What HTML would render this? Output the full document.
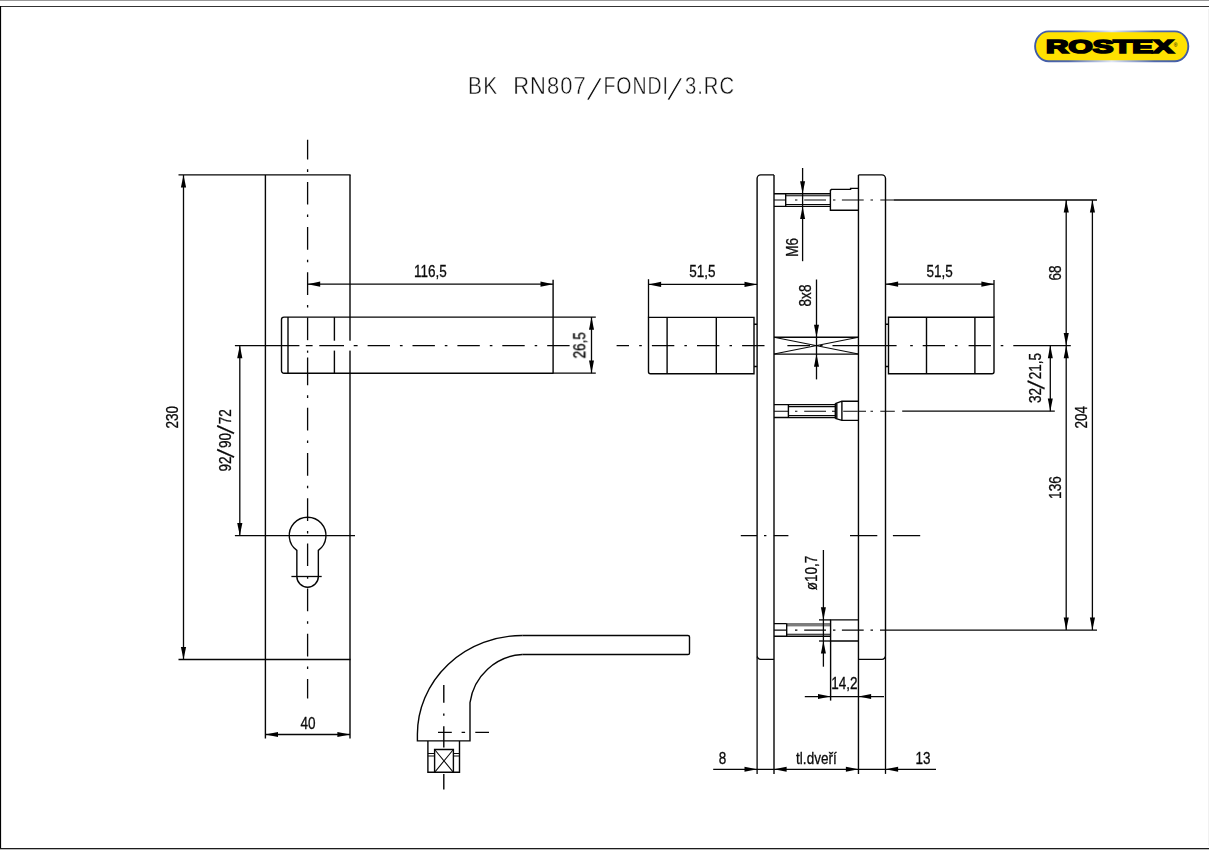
<!DOCTYPE html>
<html lang="cs"><head><meta charset="utf-8"><title>BK RN807/FONDI/3.RC</title>
<style>
html,body{margin:0;padding:0;background:#fff}
body{width:1209px;height:855px;overflow:hidden}
svg{display:block}
.t{stroke:#060606;stroke-width:1.3;fill:none}
.k{stroke:#050505;stroke-width:1.4;fill:none}
.m{stroke:#080808;stroke-width:1.05;fill:none}
.a{fill:#000;stroke:none}
.d{font-family:"Liberation Sans",sans-serif;font-size:16.5px;fill:#0a0a0a;stroke:#0a0a0a;stroke-width:.3px}
.s{font-size:25px}
.title{font-family:"Liberation Sans",sans-serif;font-size:24px;fill:#111;stroke:#fff;stroke-width:.4px;letter-spacing:1.2px}
.sl{font-size:34px;letter-spacing:0;stroke-width:1.1px}
.logo{font-family:"Liberation Sans",sans-serif;font-weight:bold;font-size:18.6px;fill:#000;stroke:#000;stroke-width:1.7px;stroke-linejoin:miter}
.reg{font-family:"Liberation Sans",sans-serif;font-size:5px;fill:#000;text-anchor:middle}
</style></head>
<body>
<svg width="1209" height="855" viewBox="0 0 1209 855">

<rect x="0" y="0" width="1209" height="1" fill="#999"/>
<rect x="0" y="6" width="1209" height="1" fill="#333"/>
<rect x="0" y="6" width="1.1" height="843" fill="#000"/>
<rect x="0" y="848" width="1209" height="1.3" fill="#1c1c1c"/>
<rect x="1208" y="9" width="1" height="837" fill="#f1f1f1"/>
<defs><linearGradient id="lg" x1="0" x2="1" y1="0" y2="0"><stop offset="0" stop-color="#3f5aa6"/><stop offset=".22" stop-color="#4f68b0"/><stop offset=".5" stop-color="#dfe6f6"/><stop offset=".78" stop-color="#4f68b0"/><stop offset="1" stop-color="#3f5aa6"/></linearGradient></defs>
<rect x="1035.1" y="31.4" width="153.2" height="29.8" rx="13.5" ry="14.9" fill="#ffe100" stroke="url(#lg)" stroke-width="1.9"/>
<text class="logo" transform="translate(1109.9,53.4) scale(1.67,1)" text-anchor="middle">ROSTEX</text>
<text class="reg" x="1175.6" y="47.4">®</text>
<line class="k" x1="265.4" y1="174.9" x2="265.4" y2="738.5"/>
<line class="k" x1="350.0" y1="174.9" x2="350.0" y2="738.5"/>
<line class="k" x1="178.5" y1="174.9" x2="350.6" y2="174.9"/>
<line class="k" x1="178.5" y1="659.5" x2="350.6" y2="659.5"/>
<path class="t" d="M307.6 139.8V159.4M307.6 169.3V171.9M307.6 181.9V204.6M307.6 214.5V217.1M307.6 227.1V249.8M307.6 259.7V262.3M307.6 272.3V295.0M307.6 304.9V307.5M307.6 317.5V340.2M307.6 350.1V352.7M307.6 362.6V385.3M307.6 395.3V397.9M307.6 407.8V430.5M307.6 440.5V443.1M307.6 453.0V475.7M307.6 485.7V488.3M307.6 498.2V520.9M307.6 530.9V533.5M307.6 543.4V566.1M307.6 576.1V578.7M307.6 588.6V611.3M307.6 621.2V623.8M307.6 633.8V656.5M307.6 666.4V669.0M307.6 679.0V698.6M307.6 357.4V362.7"/>
<line class="t" x1="183.5" y1="174.9" x2="183.5" y2="659.5"/>
<polygon class="a" points="183.5,174.9 180.9,187.5 186.1,187.5"/>
<polygon class="a" points="183.5,659.5 180.9,646.9 186.1,646.9"/>
<path class="k" d="M553.1 317.1H284a2.5 2.5 0 0 0 -2.5 2.5V370.7a2.5 2.5 0 0 0 2.5 2.5H553.1"/>
<line class="k" x1="288" y1="317.1" x2="288" y2="373.2"/>
<line class="k" x1="334.4" y1="317.1" x2="334.4" y2="373.2"/>
<line class="k" x1="553.1" y1="279.8" x2="553.1" y2="373.8"/>
<line class="t" x1="307.6" y1="284.2" x2="553.1" y2="284.2"/>
<polygon class="a" points="307.6,284.2 320.2,281.6 320.2,286.8"/>
<polygon class="a" points="553.1,284.2 540.5,281.6 540.5,286.8"/>
<rect x="299.8" y="340.7" width="56" height="9.9" fill="#fff"/>
<line class="t" x1="234.9" y1="345.55" x2="299.4" y2="345.55"/>
<path class="t" d="M305.8 345.55H312.6M319.3 345.55H344.0M353.7 345.55H357.6M367.6 345.55H390.0M399.9 345.55H402.6M412.5 345.55H434.9M444.8 345.55H447.4M457.4 345.55H479.8M489.8 345.55H492.4M502.3 345.55H524.7M534.7 345.55H537.2M547.2 345.55H569.6"/>
<line class="t" x1="553.1" y1="317.1" x2="595.8" y2="317.1"/>
<line class="t" x1="553.1" y1="373.2" x2="595.8" y2="373.2"/>
<line class="t" x1="591.5" y1="317.1" x2="591.5" y2="373.2"/>
<polygon class="a" points="591.5,317.1 589.0,329.7 594.0,329.7"/>
<polygon class="a" points="591.5,373.2 589.0,360.6 594.0,360.6"/>
<line class="t" x1="239.8" y1="345.55" x2="239.8" y2="535.55"/>
<polygon class="a" points="239.8,345.6 237.2,358.2 242.4,358.2"/>
<polygon class="a" points="239.8,535.5 237.2,522.9 242.4,522.9"/>
<line class="t" x1="234.9" y1="535.55" x2="355" y2="535.55"/>
<path class="k" d="M296.85 550.42A18.35 18.35 0 1 1 318.35 550.42V576.5A10.75 10.75 0 0 1 296.85 576.5Z"/>
<line class="t" x1="291.4" y1="576.5" x2="321.7" y2="576.5"/>
<line class="t" x1="265.4" y1="734.5" x2="350.0" y2="734.5"/>
<polygon class="a" points="265.4,734.5 278.0,732.0 278.0,737.0"/>
<polygon class="a" points="350.0,734.5 337.4,732.0 337.4,737.0"/>
<path class="k" d="M522.3 635.5H687.9a1.6 1.6 0 0 1 1.6 1.6V652.9a1.6 1.6 0 0 1 -1.6 1.6H522.3"/>
<path class="k" d="M522.3 635.5A104.9 98.8 0 0 0 417.4 734.3V740.9H470V702.6A56 56 0 0 1 522.3 654.5"/>
<path class="k" d="M427.9 740.9V772.3H459.5V740.9"/>
<path class="k" d="M434.6 772.3V749.5H453.4V772.3"/>
<path class="m" d="M434.6 749.5L453.4 772.3M453.4 749.5L434.6 772.3"/>
<path class="m" d="M427.9 753.4H434.6M427.9 756H434.6M453.4 753.4H459.5M453.4 756H459.5"/>
<path class="k" d="M443.8 684.9V702.7M443.8 713.4V715.8M443.8 726.3V747.6M443.8 773.9V789.5"/>
<path class="k" d="M438.0 732.4H451.8M461.6 732.4H465.1M475.3 732.4H489.0"/>
<path class="k" d="M774.0 174.9H760.7a3.6 3.6 0 0 0 -3.6 3.6V655.8a3.6 3.6 0 0 0 3.6 3.6H774.0"/>
<path class="k" d="M858.45 174.9H881.9a3.6 3.6 0 0 1 3.6 3.6V655.8a3.6 3.6 0 0 1 -3.6 3.6H858.45"/>
<line class="k" x1="774.0" y1="174.9" x2="774.0" y2="773.9"/>
<line class="k" x1="858.45" y1="174.9" x2="858.45" y2="773.9"/>
<line class="t" x1="757.1" y1="656.4" x2="757.1" y2="773.9"/>
<line class="t" x1="885.5" y1="656.4" x2="885.5" y2="773.9"/>
<path class="k" d="M754 317.4H648.5V371.7a2 2 0 0 0 2 2H754Z"/>
<line class="k" x1="667.1" y1="317.4" x2="667.1" y2="373.7"/>
<line class="k" x1="716.3" y1="317.4" x2="716.3" y2="373.7"/>
<path class="k" d="M754 324.3H757.1M754 366.5H757.1"/>
<path class="k" d="M888.5 317.2H994V371.7a2 2 0 0 1 -2 2H888.5Z"/>
<line class="k" x1="926.5" y1="317.2" x2="926.5" y2="373.7"/>
<line class="k" x1="974.9" y1="317.2" x2="974.9" y2="373.7"/>
<path class="k" d="M885.5 324.3H888.5M885.5 366.5H888.5"/>
<path class="k" d="M774.0 337.3H858.45M774.0 354.1H858.45"/>
<path class="m" d="M774.0 337.3L858.45 354.1M774.0 354.1L858.45 337.3"/>
<path class="t" d="M616.6 345.55H629.0M639.2 345.55H641.8M651.9 345.55H674.3M684.4 345.55H686.9M697.0 345.55H719.4M729.5 345.55H732.0M742.1 345.55H764.5M787.4 345.55H810.0M820.0 345.55H822.6M832.5 345.55H858.4"/>
<line class="t" x1="858.4" y1="345.55" x2="896.6" y2="345.55"/>
<path class="t" d="M910.2 345.55H912.8M922.7 345.55H945.0M954.9 345.55H957.5M968.6 345.55H990.9M1000.7 345.55H1003.3"/>
<line class="t" x1="1013.3" y1="345.55" x2="1070.8" y2="345.55"/>
<line class="t" x1="648.5" y1="279.2" x2="648.5" y2="317.4"/>
<line class="t" x1="648.5" y1="284.4" x2="757.1" y2="284.4"/>
<polygon class="a" points="648.5,284.4 661.1,281.8 661.1,286.9"/>
<polygon class="a" points="757.1,284.4 744.5,281.8 744.5,286.9"/>
<line class="t" x1="994" y1="279.9" x2="994" y2="317.2"/>
<line class="t" x1="885.5" y1="284.2" x2="994" y2="284.2"/>
<polygon class="a" points="885.5,284.2 898.1,281.6 898.1,286.8"/>
<polygon class="a" points="994.0,284.2 981.4,281.6 981.4,286.8"/>
<path class="k" d="M774.0 193.8H830.4M774.0 206.4H830.4M785.7 193.8V206.4"/>
<path class="m" d="M785.7 195.8H830.4M785.7 204.5H830.4M774.0 200.0H785.7"/>
<path class="k" d="M858.45 210.3H830.4V190.4l1 -1H850.6V188.4H858.45"/>
<path class="m" d="M795.0 200.0H797.4M804.2 200.0H826.0M833.0 200.0H835.4M841.9 200.0H863.7M870.5 200.0H873.0M880.3 200.0H893.5"/>
<line class="t" x1="893.5" y1="200.0" x2="1097" y2="200.0"/>
<line class="t" x1="802.6" y1="168" x2="802.6" y2="261.2"/>
<polygon class="a" points="802.6,193.8 800.1,181.2 805.1,181.2"/>
<polygon class="a" points="802.6,206.4 800.1,219.0 805.1,219.0"/>
<line class="t" x1="816.5" y1="279.5" x2="816.5" y2="379.4"/>
<polygon class="a" points="816.5,337.3 814.0,324.7 819.0,324.7"/>
<polygon class="a" points="816.5,354.1 814.0,366.7 819.0,366.7"/>
<path class="k" d="M774.0 404.6H835.3M774.0 417.5H835.3M788.4 404.6V417.5"/>
<path class="m" d="M788.4 406.6H835.3M788.4 415.5H835.3M774.0 411.2H788.4"/>
<path class="k" d="M835.3 403.6V418.4M836.8 403.2V418.8M841.9 401.2V420.4M835.3 403.6L841.9 401.2H858.45M835.3 418.4L841.9 420.4H858.45"/>
<path class="m" d="M795.0 411.2H797.4M804.2 411.2H826.0M832.0 411.2H835.0M843.2 411.2H857.8M858.4 411.2H866.0M870.5 411.2H873.0M880.3 411.2H894.8"/>
<line class="t" x1="902.2" y1="411.2" x2="1054.8" y2="411.2"/>
<line class="t" x1="1050.3" y1="345.55" x2="1050.3" y2="411.2"/>
<polygon class="a" points="1050.3,345.6 1047.8,358.2 1052.8,358.2"/>
<polygon class="a" points="1050.3,411.2 1047.8,398.6 1052.8,398.6"/>
<rect x="786.7" y="623.0" width="43.9" height="3.4" fill="#7c7c7c"/>
<path class="k" d="M774.0 623.6H786.7M774.0 636.2H830.6M786.7 623.6V636.2"/>
<path class="m" d="M786.7 634.2H830.6M774.0 630.1H786.7"/>
<path class="k" d="M858.45 619.9H830.6V641H858.45"/>
<path class="m" d="M795.0 630.1H797.4M804.2 630.1H826.0M833.0 630.1H835.4M841.9 630.1H863.7M870.5 630.1H873.0"/>
<line class="t" x1="880" y1="630.1" x2="1097" y2="630.1"/>
<path class="t" d="M740.8 535.55H757.0M764.0 535.55H766.4M773.8 535.55H788.4M850.0 535.55H877.3M892.9 535.55H920.2"/>
<line class="t" x1="823.4" y1="550" x2="823.4" y2="666.7"/>
<polygon class="a" points="823.4,619.9 820.9,607.3 825.9,607.3"/>
<polygon class="a" points="823.4,641.0 820.9,653.6 825.9,653.6"/>
<line class="t" x1="819" y1="619.9" x2="830.6" y2="619.9"/>
<line class="t" x1="819" y1="641" x2="830.6" y2="641"/>
<line class="k" x1="830.6" y1="641" x2="830.6" y2="700.6"/>
<line class="t" x1="804.8" y1="696.6" x2="884" y2="696.6"/>
<polygon class="a" points="830.6,696.6 818.0,694.1 818.0,699.1"/>
<polygon class="a" points="858.5,696.6 871.1,694.1 871.1,699.1"/>
<line class="t" x1="713.2" y1="769.3" x2="936" y2="769.3"/>
<polygon class="a" points="757.1,769.3 744.5,766.8 744.5,771.8"/>
<polygon class="a" points="774.0,769.3 786.6,766.8 786.6,771.8"/>
<polygon class="a" points="858.5,769.3 845.9,766.8 845.9,771.8"/>
<polygon class="a" points="885.5,769.3 898.1,766.8 898.1,771.8"/>
<line class="t" x1="1066.2" y1="200.0" x2="1066.2" y2="630.1"/>
<polygon class="a" points="1066.2,200.0 1063.7,212.6 1068.8,212.6"/>
<polygon class="a" points="1066.2,345.6 1063.7,332.9 1068.8,332.9"/>
<polygon class="a" points="1066.2,345.6 1063.7,358.2 1068.8,358.2"/>
<polygon class="a" points="1066.2,630.1 1063.7,617.5 1068.8,617.5"/>
<line class="t" x1="1092.4" y1="200.0" x2="1092.4" y2="630.1"/>
<polygon class="a" points="1092.4,200.0 1089.9,212.6 1095.0,212.6"/>
<polygon class="a" points="1092.4,630.1 1089.9,617.5 1095.0,617.5"/>
<defs><filter id="gs" x="0" y="0" width="1209" height="855" filterUnits="userSpaceOnUse" color-interpolation-filters="sRGB"><feColorMatrix type="saturate" values="0"/></filter></defs>
<g filter="url(#gs)">
<text class="title"><tspan x="468.1" y="93.6" textLength="30.19" lengthAdjust="spacingAndGlyphs">BK</tspan> <tspan x="513.2" y="93.6" textLength="73.62" lengthAdjust="spacingAndGlyphs">RN807</tspan><tspan class="sl" x="586.4" y="99.4" rotate="15">/</tspan><tspan x="603.5" y="93.6" textLength="65.42" lengthAdjust="spacingAndGlyphs">FONDI</tspan><tspan class="sl" x="667.1" y="99.4" rotate="15">/</tspan><tspan x="684.9" y="93.6" textLength="50.15" lengthAdjust="spacingAndGlyphs">3.RC</tspan></text>
<text class="d" text-anchor="middle" transform="translate(177.8,417.2) rotate(-90) scale(0.82,1)">230</text>
<text class="d" text-anchor="middle" transform="translate(430.3,276.6) scale(0.82,1)">116,5</text>
<text class="d" text-anchor="middle" transform="translate(585.3,345.3) rotate(-90) scale(0.82,1)">26,5</text>
<text class="d" transform="translate(230.7,440.4) rotate(-90) scale(0.82,1)"><tspan x="-38.01" y="0">92</tspan><tspan class="s" x="-21.13" y="2.9" rotate="13">/</tspan><tspan x="-9.17" y="0">90</tspan><tspan class="s" x="7.71" y="2.9" rotate="13">/</tspan><tspan x="19.66" y="0">72</tspan></text>
<text class="d" text-anchor="middle" transform="translate(308,728.5) scale(0.82,1)">40</text>
<text class="d" text-anchor="middle" transform="translate(702.3,276.6) scale(0.82,1)">51,5</text>
<text class="d" text-anchor="middle" transform="translate(939.7,276.8) scale(0.82,1)">51,5</text>
<text class="d" text-anchor="middle" transform="translate(797.5,247.4) rotate(-90) scale(0.82,1)">M6</text>
<text class="d" text-anchor="middle" transform="translate(811.2,295.5) rotate(-90) scale(0.82,1)">8x8</text>
<text class="d" transform="translate(1041.1,378) rotate(-90) scale(0.82,1)"><tspan x="-30.47" y="0">32</tspan><tspan class="s" x="-13.59" y="2.9" rotate="13">/</tspan><tspan x="-1.64" y="0">21,5</tspan></text>
<text class="d" text-anchor="middle" transform="translate(816.7,573) rotate(-90) scale(0.82,1)">ø10,7</text>
<text class="d" text-anchor="middle" transform="translate(844.4,689.3) scale(0.82,1)">14,2</text>
<text class="d" text-anchor="middle" transform="translate(722.6,763.5) scale(0.82,1)">8</text>
<text class="d" text-anchor="middle" transform="translate(816.4,763.5) scale(0.82,1)">tl.dveří</text>
<text class="d" text-anchor="middle" transform="translate(923.1,763.5) scale(0.82,1)">13</text>
<text class="d" text-anchor="middle" transform="translate(1060.7,272.9) rotate(-90) scale(0.82,1)">68</text>
<text class="d" text-anchor="middle" transform="translate(1060.7,487.6) rotate(-90) scale(0.82,1)">136</text>
<text class="d" text-anchor="middle" transform="translate(1086.8,417.2) rotate(-90) scale(0.82,1)">204</text>
</g>
</svg>
</body></html>
